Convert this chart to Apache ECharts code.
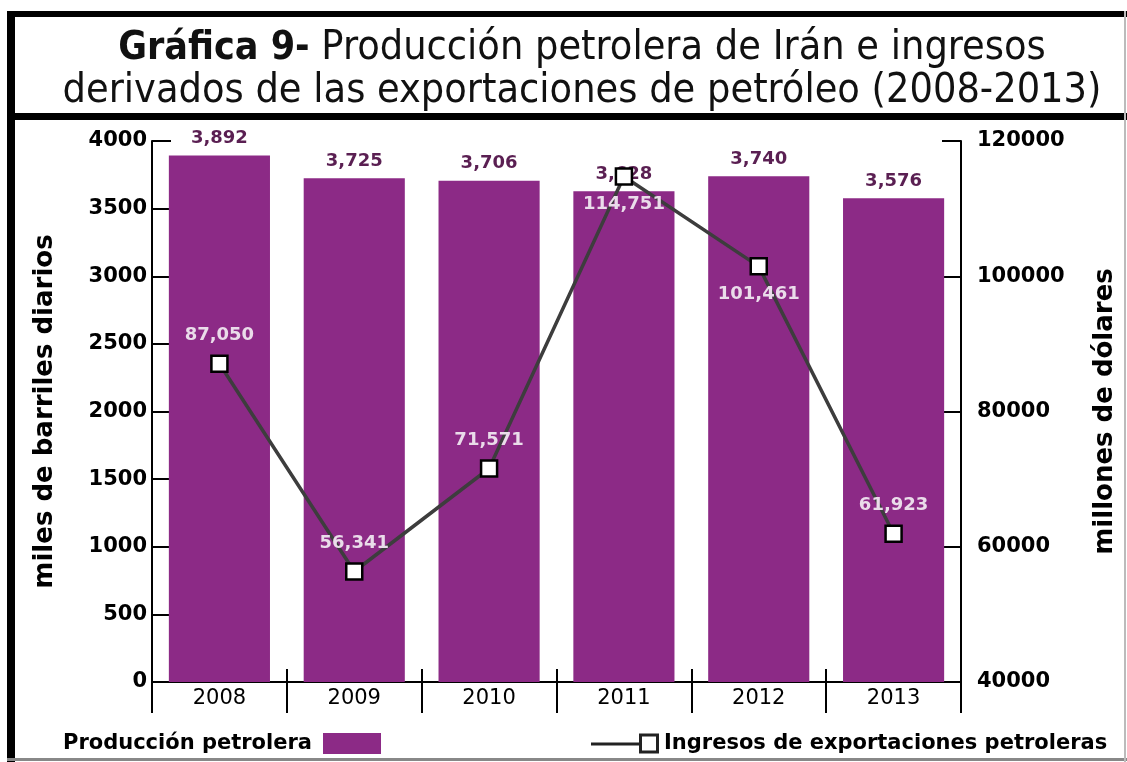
<!DOCTYPE html>
<html>
<head>
<meta charset="utf-8">
<script src="https://cdn.jsdelivr.net/npm/echarts@6/dist/echarts.min.js"></script>
<style>
html,body{margin:0;padding:0;background:#fff;}
#chart{width:1127px;height:762px;}
</style>
</head>
<body>
<div id="chart"></div>
<script>
const years = ['2008', '2009', '2010', '2011', '2012', '2013'];
const produccion = [3892, 3725, 3706, 3628, 3740, 3576];
const ingresos = [87050, 56341, 71571, 114751, 101461, 61923];
const labelsBelow = ['2011', '2012'];

const fmt = v => v.toLocaleString('en-US');
const F = 'DejaVu Sans, Verdana, sans-serif';
const TF = 'DejaVu Sans Condensed, DejaVu Sans, sans-serif';

const chart = echarts.init(document.getElementById('chart'));
chart.setOption({
  backgroundColor: '#fff',
  animation: false,
  title: {
    text: '{b|Gráfica 9-} Producción petrolera de Irán e ingresos\nderivados de las exportaciones de petróleo (2008-2013)',
    left: 577, top: 22, textAlign: 'center',
    textStyle: {
      fontFamily: TF, fontSize: 41, fontWeight: 'normal', color: '#111', lineHeight: 43,
      rich: { b: { fontFamily: TF, fontSize: 39, fontWeight: 'bold', color: '#111', lineHeight: 43 } }
    }
  },
  graphic: [
    { type: 'rect', shape: { x: 7, y: 11, width: 1120, height: 6 }, style: { fill: '#000' } },
    { type: 'rect', shape: { x: 7, y: 11, width: 8, height: 751 }, style: { fill: '#000' } },
    { type: 'rect', shape: { x: 7, y: 113, width: 1120, height: 7 }, style: { fill: '#000' } },
    { type: 'rect', shape: { x: 7, y: 758, width: 1120, height: 3 }, style: { fill: '#888' } },
    { type: 'rect', shape: { x: 1124, y: 11, width: 2, height: 751 }, style: { fill: '#bbb' } }
  ],
  legend: [
    {
      left: 58, top: 728, align: 'right', itemWidth: 58, itemHeight: 21,
      textStyle: { fontFamily: F, fontSize: 21, fontWeight: 'bold', color: '#000', padding: [0, 6, 0, 0] },
      data: [{ name: 'Producción petrolera', icon: 'rect' }]
    },
    {
      left: 586, top: 728, itemWidth: 68, itemHeight: 20,
      textStyle: { fontFamily: F, fontSize: 21, fontWeight: 'bold', color: '#000' },
      data: [{
        name: 'Ingresos de exportaciones petroleras',
        icon: 'path://M0,9H48V12H0Z M48,0H68V20H48Z M51,3V17H65V3Z',
        itemStyle: { color: '#222', borderWidth: 0 }
      }]
    }
  ],
  grid: { left: 152, right: 166, top: 141, bottom: 80, containLabel: false },
  xAxis: [
    {
      type: 'category', data: years, position: 'bottom', offset: 0,
      axisLine: { show: true, lineStyle: { color: '#000', width: 2 } },
      axisTick: { show: true, inside: false, length: 31, lineStyle: { color: '#000', width: 2 } },
      axisLabel: { fontFamily: F, fontSize: 21, color: '#000', margin: 6 }
    },
    {
      type: 'category', data: years, position: 'bottom', offset: 0,
      axisLine: { show: false },
      axisTick: { show: true, inside: true, length: 13, lineStyle: { color: '#000', width: 2 } },
      axisLabel: { show: false }
    }
  ],
  yAxis: [
    {
      type: 'value', min: 0, max: 4000, interval: 500, position: 'left',
      name: 'miles de barriles diarios', nameLocation: 'middle', nameRotate: 90, nameGap: 94,
      nameTextStyle: { fontFamily: F, fontSize: 26, fontWeight: 'bold', color: '#000' },
      axisLine: { show: true, lineStyle: { color: '#000', width: 2 } },
      axisTick: { show: true, inside: true, length: 19, lineStyle: { color: '#000', width: 2 } },
      axisLabel: { fontFamily: F, fontSize: 21, fontWeight: 'bold', color: '#000', margin: 5, formatter: v => String(v) },
      splitLine: { show: false }
    },
    {
      type: 'value', min: 40000, max: 120000, interval: 20000, position: 'right',
      name: 'millones de dólares', nameLocation: 'middle', nameRotate: 90, nameGap: 131,
      nameTextStyle: { fontFamily: F, fontSize: 26, fontWeight: 'bold', color: '#000' },
      axisLine: { show: true, lineStyle: { color: '#000', width: 2 } },
      axisTick: { show: true, inside: true, length: 19, lineStyle: { color: '#000', width: 2 } },
      axisLabel: { fontFamily: F, fontSize: 21, fontWeight: 'bold', color: '#000', margin: 16, formatter: v => String(v) },
      splitLine: { show: false }
    }
  ],
  series: [
    {
      name: 'Producción petrolera', type: 'bar', xAxisIndex: 0, yAxisIndex: 0,
      data: produccion, barCategoryGap: '25%',
      itemStyle: { color: '#8c2a86' },
      label: {
        show: true, position: 'top', distance: 8,
        formatter: p => fmt(p.value),
        fontFamily: F, fontSize: 18, fontWeight: 'bold', color: '#5a1f52'
      }
    },
    {
      name: 'Ingresos de exportaciones petroleras', type: 'line', xAxisIndex: 0, yAxisIndex: 1,
      data: ingresos.map((v, i) => ({
        value: v,
        label: { position: labelsBelow.includes(years[i]) ? 'bottom' : 'top' }
      })),
      symbol: 'rect', symbolSize: 16,
      lineStyle: { color: '#3d3d3d', width: 3.5 },
      itemStyle: { color: '#fff', borderColor: '#000', borderWidth: 2.5 },
      label: {
        show: true, distance: 10,
        formatter: p => fmt(p.value),
        fontFamily: F, fontSize: 18, fontWeight: 'bold', color: '#eadcea'
      },
      z: 5
    }
  ]
});
</script>
</body>
</html>
